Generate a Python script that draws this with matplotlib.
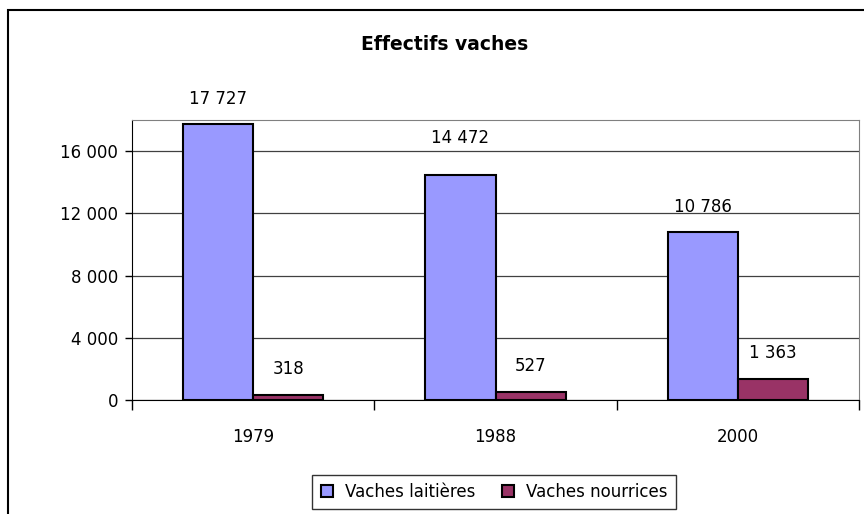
import matplotlib.pyplot as plt
from matplotlib.patches import Rectangle
from matplotlib.ticker import FuncFormatter, FixedLocator
import numpy as np

years = ["1979", "1988", "2000"]
laitieres = [17727, 14472, 10786]
nourrices = [318, 527, 1363]
series_names = ["Vaches laitières", "Vaches nourrices"]

plt.rcParams['font.family'] = ['DejaVu Sans']
FS = 12


def fmt_space(v, pos=None):
    return f"{int(v):,}".replace(",", " ")


fig = plt.figure(figsize=(8.64, 5.14), dpi=100)
ax = fig.add_axes([132 / 864, 1 - 400 / 514, 727 / 864, 280 / 514])

# outer chart border
fig.patches.append(Rectangle((8 / 864, -0.05), 1.2, 1 - 10 / 514 + 0.05,
                             transform=fig.transFigure, fill=False,
                             edgecolor="black", linewidth=1.5))

x = np.arange(len(years))
w = 0.289
b1 = ax.bar(x - w / 2, laitieres, w, color="#9999FF", edgecolor="black",
            linewidth=1.5, label=series_names[0], zorder=3)
b2 = ax.bar(x + w / 2, nourrices, w, color="#993366", edgecolor="black",
            linewidth=1.5, label=series_names[1], zorder=3)

# label above each bar; the 1988 dairy label sits a bit higher (over the gridline)
nudge = {(0, 1): 8}
for j, (bars, vals) in enumerate(((b1, laitieres), (b2, nourrices))):
    for i, (rect, v) in enumerate(zip(bars, vals)):
        ax.annotate(fmt_space(v), (rect.get_x() + rect.get_width() / 2, v),
                    xytext=(0, 12 + nudge.get((j, i), 0)), textcoords="offset points",
                    ha="center", va="bottom", fontsize=FS)

ax.set_xlim(-0.5, 2.5)
ax.set_ylim(0, 18000)
ax.set_yticks([0, 4000, 8000, 12000, 16000])
ax.yaxis.set_major_formatter(FuncFormatter(fmt_space))
ax.set_xticks(x)
ax.set_xticklabels(years)
ax.xaxis.set_minor_locator(FixedLocator([-0.5, 0.5, 1.5, 2.5]))
ax.tick_params(axis="x", which="major", length=0, pad=20, labelsize=FS)
ax.tick_params(axis="x", which="minor", length=7, width=1, direction="out")
ax.tick_params(axis="y", length=5, width=1, direction="out", pad=5, labelsize=FS)

ax.grid(axis="y", color="#404040", linewidth=0.9, zorder=0)
for s in ("top", "right"):
    ax.spines[s].set_color("#808080")
ax.spines["left"].set_color("black")
ax.spines["bottom"].set_color("black")

fig.text(445 / 864, 1 - 45 / 514, "Effectifs vaches", ha="center", va="center",
         fontsize=13.5, fontweight="bold")

leg = fig.legend(loc="center", bbox_to_anchor=(494 / 864, 1 - 492 / 514),
                 ncol=2, frameon=True, fancybox=False, edgecolor="black",
                 fontsize=FS, handlelength=0.75, handleheight=0.75,
                 handletextpad=0.7, columnspacing=1.6, borderpad=0.5)
leg.get_frame().set_linewidth(1)

fig.savefig("out.png", dpi=100)
